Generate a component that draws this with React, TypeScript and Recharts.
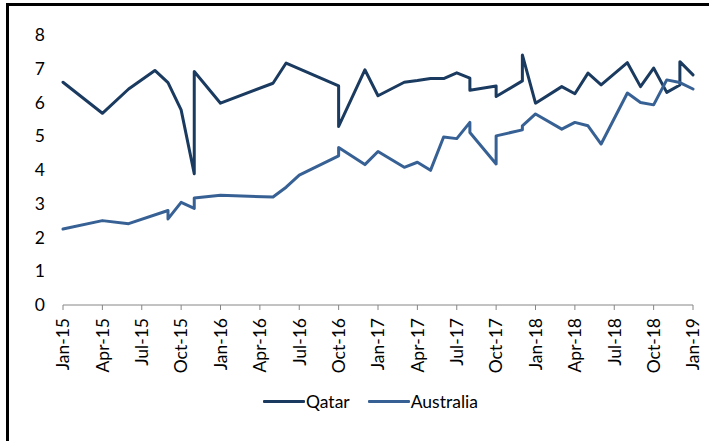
import React from "react";
import { LineChart, Line, XAxis, YAxis, Legend } from "recharts";

// month of each observation, "YYYY-MM"
const qatarMonths = [
  "2015-01", "2015-04", "2015-06", "2015-08", "2015-09", "2015-10", "2015-11", "2015-11",
  "2016-01", "2016-05", "2016-06", "2016-10", "2016-10", "2016-12", "2017-01", "2017-03",
  "2017-04", "2017-05", "2017-06", "2017-07", "2017-08", "2017-08", "2017-10", "2017-10",
  "2017-12", "2017-12", "2018-01", "2018-03", "2018-04", "2018-05", "2018-06", "2018-08",
  "2018-09", "2018-10", "2018-11", "2018-12", "2018-12", "2019-01",
];
const qatarValues = [
  6.6, 5.68, 6.4, 6.95, 6.59, 5.78, 3.89, 6.92,
  5.98, 6.57, 7.17, 6.49, 5.29, 6.97, 6.2, 6.6,
  6.65, 6.71, 6.71, 6.88, 6.72, 6.36, 6.49, 6.18,
  6.64, 7.41, 5.98, 6.47, 6.26, 6.87, 6.52, 7.18,
  6.47, 7.02, 6.3, 6.52, 7.21, 6.82,
];

const australiaMonths = [
  "2015-01", "2015-04", "2015-06", "2015-09", "2015-09", "2015-10", "2015-11", "2015-11",
  "2016-01", "2016-05", "2016-06", "2016-07", "2016-10", "2016-10", "2016-12", "2017-01",
  "2017-03", "2017-04", "2017-05", "2017-06", "2017-07", "2017-08", "2017-08", "2017-10",
  "2017-10", "2017-12", "2017-12", "2018-01", "2018-03", "2018-04", "2018-05", "2018-06",
  "2018-08", "2018-09", "2018-10", "2018-11", "2018-12", "2019-01",
];
const australiaValues = [
  2.25, 2.5, 2.41, 2.8, 2.55, 3.04, 2.86, 3.17,
  3.25, 3.2, 3.49, 3.85, 4.42, 4.67, 4.16, 4.55,
  4.08, 4.23, 3.99, 4.98, 4.93, 5.41, 5.11, 4.18,
  5.01, 5.19, 5.31, 5.66, 5.21, 5.41, 5.31, 4.77,
  6.28, 6.0, 5.93, 6.67, 6.59, 6.4,
];

const monthNames = ["Jan", "Feb", "Mar", "Apr", "May", "Jun", "Jul", "Aug", "Sep", "Oct", "Nov", "Dec"];
const xTicks = [0, 3, 6, 9, 12, 15, 18, 21, 24, 27, 30, 33, 36, 39, 42, 45, 48];
const yTicks = [0, 1, 2, 3, 4, 5, 6, 7, 8];

const QATAR = "#1a3a5f";
const AUSTRALIA = "#376194";
const FONT = "Lato, 'Open Sans', sans-serif";

// months since Jan-15
const toIndex = (s: string) => {
  const [y, m] = s.split("-").map(Number);
  return (y - 2015) * 12 + (m - 1);
};

const qatarData = qatarMonths.map((m, i) => ({ t: toIndex(m), v: qatarValues[i] }));
const australiaData = australiaMonths.map((m, i) => ({ t: toIndex(m), v: australiaValues[i] }));

const fmtMonth = (t: number) => {
  const y = 15 + Math.floor(t / 12);
  return `${monthNames[t % 12]}-${y}`;
};

const MonthTick = (props: any) => {
  const { x, y, payload } = props;
  return (
    <text
      x={x}
      y={y}
      transform={`rotate(-90 ${x} ${y})`}
      textAnchor="end"
      dy="0.36em"
      fontSize={17.5}
      fontFamily={FONT}
      fill="#000"
    >
      {fmtMonth(payload.value)}
    </text>
  );
};

const legendItems = [
  { name: "Qatar", color: QATAR },
  { name: "Australia", color: AUSTRALIA },
];

const ChartLegend = () => (
  <div style={{ display: "flex", alignItems: "center", height: 24, paddingLeft: 263, fontFamily: FONT, fontSize: 17.5 }}>
    {legendItems.map((it, i) => (
      <div key={it.name} style={{ display: "flex", alignItems: "center", marginLeft: i ? 18 : 0 }}>
        <span style={{ display: "inline-block", width: 42, height: 3, background: it.color, borderRadius: 1 }} />
        <span style={{ color: "#000", marginLeft: 1 }}>{it.name}</span>
      </div>
    ))}
  </div>
);

export default function App() {
  return (
    <div style={{ position: "absolute", left: 0, top: 0, width: 709, height: 441, overflow: "hidden", background: "#fff" }}>
      <div
        style={{
          position: "absolute", left: 6, top: 3, width: 703, height: 438,
          borderLeft: "3px solid #000", borderTop: "3px solid #000", boxSizing: "border-box",
        }}
      />
      <div style={{ position: "absolute", left: 0, top: 0 }}>
        <LineChart width={709} height={441} margin={{ top: 35, right: 16, bottom: 28, left: 0 }}>
          <XAxis
            dataKey="t"
            type="number"
            domain={[0, 48]}
            ticks={xTicks}
            interval={0}
            height={84}
            tickSize={5}
            tickMargin={8}
            stroke="#868686"
            tick={<MonthTick />}
          />
          <YAxis
            type="number"
            domain={[0, 8]}
            ticks={yTicks}
            width={63}
            axisLine={false}
            tickLine={false}
            tickMargin={12}
            tick={{ fontSize: 17.5, fontFamily: FONT, fill: "#000" }}
          />
          <Legend
            verticalAlign="bottom"
            wrapperStyle={{ left: 0, width: 709 }}
            content={<ChartLegend />}
          />
          <Line
            data={qatarData}
            dataKey="v"
            name="Qatar"
            stroke={QATAR}
            strokeWidth={3}
            strokeLinejoin="round"
            strokeLinecap="round"
            dot={false}
            activeDot={false}
            isAnimationActive={false}
          />
          <Line
            data={australiaData}
            dataKey="v"
            name="Australia"
            stroke={AUSTRALIA}
            strokeWidth={3}
            strokeLinejoin="round"
            strokeLinecap="round"
            dot={false}
            activeDot={false}
            isAnimationActive={false}
          />
        </LineChart>
      </div>
    </div>
  );
}
